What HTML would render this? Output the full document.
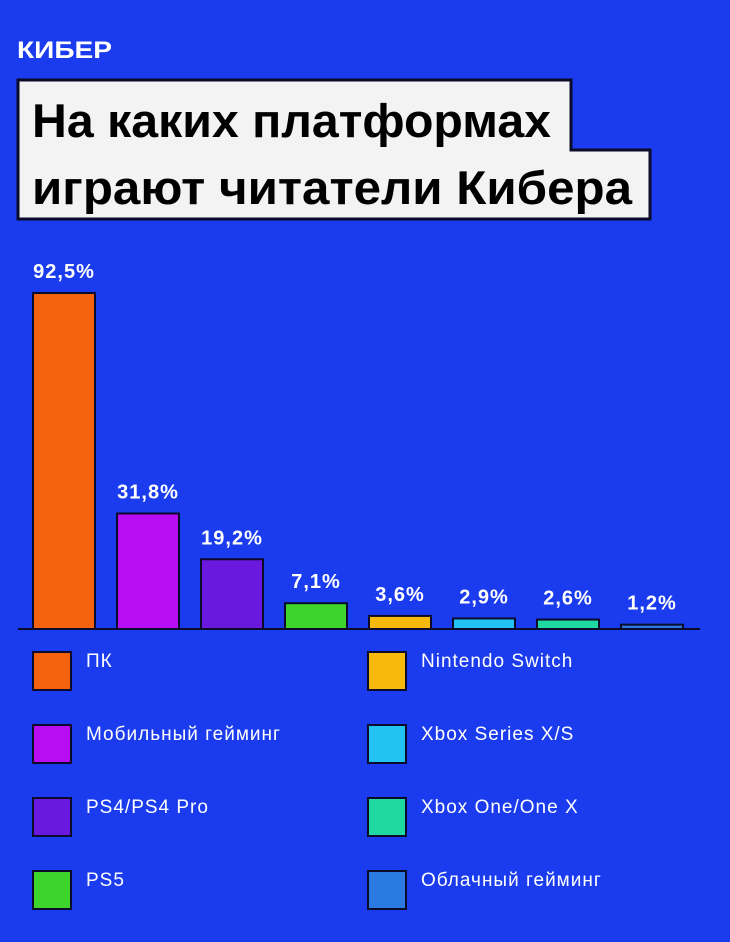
<!DOCTYPE html>
<html><head><meta charset="utf-8"><style>
body{margin:0;width:730px;height:942px;background:#1b3cee;overflow:hidden;font-family:"Liberation Sans","DejaVu Sans",sans-serif}
svg{position:absolute;left:0;top:0}
</style></head><body>
<svg width="730" height="942" id="c">
<text x="17" y="58" font-size="24" font-weight="bold" fill="#fff" textLength="95" lengthAdjust="spacingAndGlyphs">КИБЕР</text>
<polygon points="18,80 571,80 571,150 650,150 650,219 18,219" fill="#f3f3f3" stroke="#0a0a2a" stroke-width="3"/>
<text x="32" y="137" font-size="47" font-weight="bold" fill="#000" textLength="519" lengthAdjust="spacingAndGlyphs">На каких платформах</text>
<text x="32" y="204" font-size="47" font-weight="bold" fill="#000" textLength="600" lengthAdjust="spacingAndGlyphs">играют читатели Кибера</text>
<g id="bars"></g>
<line x1="18" y1="629" x2="700" y2="629" stroke="#0a0a2a" stroke-width="2"/>
<g id="legend"></g>
</svg>
<script>
const categories=["ПК","Мобильный гейминг","PS4/PS4 Pro","PS5","Nintendo Switch","Xbox Series X/S","Xbox One/One X","Облачный гейминг"];
const values=[92.5,31.8,19.2,7.1,3.6,2.9,2.6,1.2];
const labels=["92,5%","31,8%","19,2%","7,1%","3,6%","2,9%","2,6%","1,2%"];
const colors=["#f5620f","#b80cf2","#6a18de","#3fd42c","#f7b90c","#22c2f2","#20d8a2","#2b7ae2"];
const NS="http://www.w3.org/2000/svg";
const base=629, scale=336/92.5;
const y=v=>base-v*scale;
const x=i=>33+i*84;
const bars=document.getElementById('bars'), leg=document.getElementById('legend');
values.forEach((v,i)=>{
  const r=document.createElementNS(NS,'rect');
  r.setAttribute('x',x(i));r.setAttribute('y',y(v));r.setAttribute('width',62);r.setAttribute('height',base-y(v));
  r.setAttribute('fill',colors[i]);r.setAttribute('stroke','#0a0a2a');r.setAttribute('stroke-width','2');
  
  
  bars.appendChild(r);
  const t=document.createElementNS(NS,'text');
  t.setAttribute('x',x(i)+31);t.setAttribute('y',y(v)-15);t.setAttribute('text-anchor','middle');
  t.setAttribute('font-size','20');t.setAttribute('font-weight','bold');t.setAttribute('fill','#fff');
  t.setAttribute('letter-spacing','1');
  t.textContent=labels[i];
  
  
  bars.appendChild(t);
  const col=i<4?0:1,row=i%4;
  const lx=col?368:33, ly=652+row*73;
  const s=document.createElementNS(NS,'rect');
  s.setAttribute('x',lx);s.setAttribute('y',ly);s.setAttribute('width',38);s.setAttribute('height',38);
  s.setAttribute('fill',colors[i]);s.setAttribute('stroke','#0a0a2a');s.setAttribute('stroke-width','2');
  
  
  leg.appendChild(s);
  const lt=document.createElementNS(NS,'text');
  lt.setAttribute('x',lx+53);lt.setAttribute('y',ly+15);lt.setAttribute('font-size','19');lt.setAttribute('fill','#fff');
  lt.setAttribute('letter-spacing','1');
  lt.textContent=categories[i];
  
  
  leg.appendChild(lt);
});
</script>
</body></html>
